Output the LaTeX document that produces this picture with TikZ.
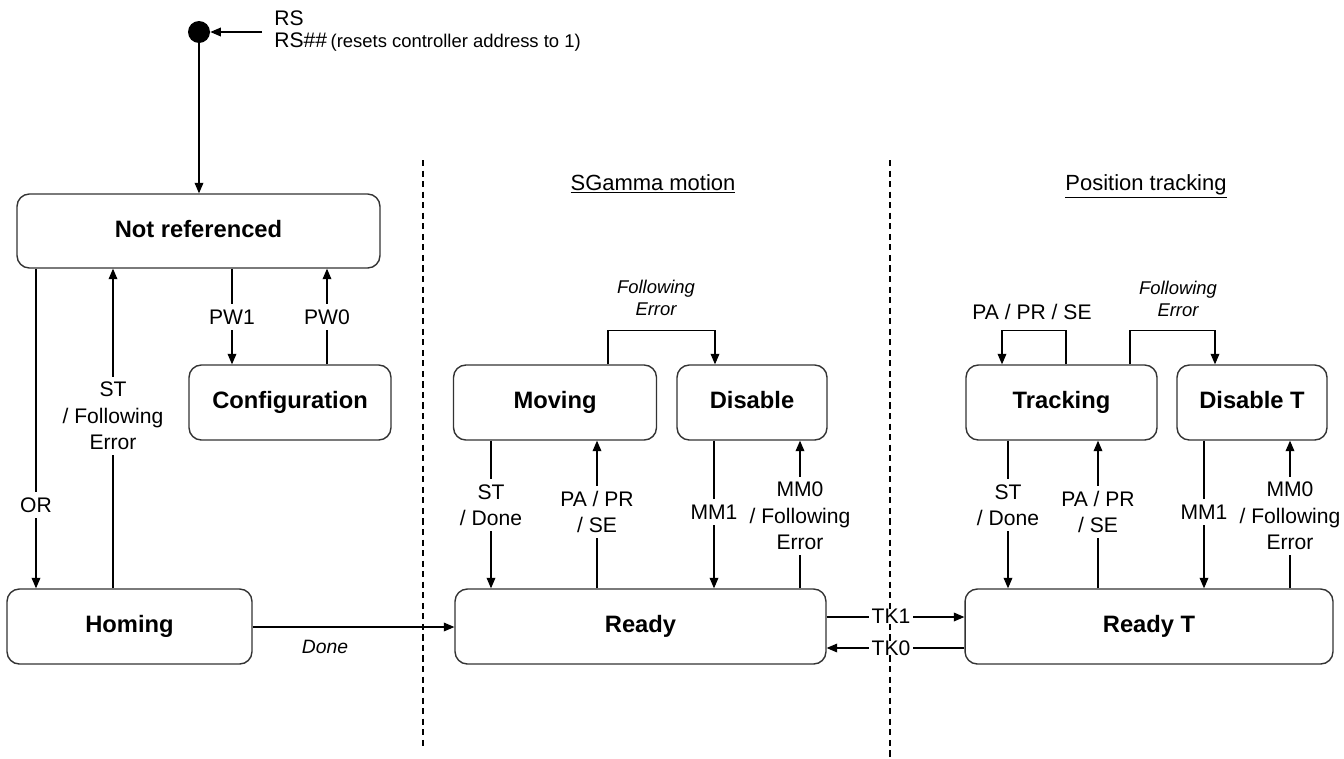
\documentclass[tikz,border=0pt]{standalone}
\usepackage{fontspec}
\setmainfont{Liberation Sans}
\usetikzlibrary{arrows.meta}
\begin{document}
\begin{tikzpicture}[x=0.02cm,y=-0.02cm,
  state/.style={draw=black!80, line width=0.8pt, rounded corners=7pt, inner sep=0pt,
    minimum height=1.5cm, text height=9.5pt, text depth=2.5pt,
    font=\fontsize{13.5}{16}\selectfont\bfseries},
  arr/.style={line width=0.6pt, -{Triangle[length=6pt,width=5pt]}},
  sepline/.style={line width=0.6pt, dash pattern=on 3.5pt off 2.5pt},
  lbl/.style={fill=white, inner xsep=2pt, inner ysep=3pt, align=center,
    font=\fontsize{12}{15}\selectfont},
  lblit/.style={inner sep=1pt, align=center, font=\fontsize{10.5}{12.5}\selectfont\itshape},
  hdr/.style={inner sep=0pt, anchor=base, font=\fontsize{12.5}{15}\selectfont},
  tklbl/.style={fill=white, inner xsep=1.5pt, inner ysep=0pt, font=\fontsize{12}{15}\selectfont}]
\useasboundingbox (0,0) rectangle (1344,758);

% separators and headers
\draw[sepline] (423,160) -- (423,750);
\draw[sepline] (890,160) -- (890,758);
\node[hdr] (hsg) at (653,190) {\underline{SGamma motion}};
\node[hdr] (hpt) at (1146,190) {\underline{Position tracking}};

% states
\node[state, minimum width=7.26cm, minimum height=1.48cm] (nr) at (198.5,231) {Not referenced};
\node[state, minimum width=4.04cm] (cfg) at (290,402.5) {Configuration};
\node[state, minimum width=4.9cm] (hom) at (129.5,626.5) {Homing};
\node[state, minimum width=7.42cm] (rdy) at (640.5,626.5) {Ready};
\node[state, minimum width=4.06cm] (mov) at (555,402.5) {Moving};
\node[state, minimum width=3.0cm] (dis) at (752,402.5) {Disable};
\node[state, minimum width=3.82cm] (trk) at (1061.5,402.5) {Tracking};
\node[state, minimum width=3.0cm] (dist) at (1252,402.5) {Disable T};
\node[state, minimum width=7.36cm] (rdyt) at (1149,626.5) {Ready T};

% initial state
\node[circle, fill=black, inner sep=0pt, minimum size=0.44cm] (init) at (199,32) {};
\coordinate (rsin) at (262,32);
\draw[arr] (rsin) -- (init);
\node[anchor=west, inner sep=0pt, font=\fontsize{12}{15}\selectfont] (rs1) at (274,18) {RS};
\node[anchor=west, inner sep=0pt, font=\fontsize{12}{15}\selectfont] (rs2) at (274,42)
  {RS\#\#\,{\fontsize{10.5}{12}\selectfont (resets controller address to 1)}};
\draw[arr] (init) -- (init |- nr.north);

% left part
\draw[arr] (nr.south -| 36,0) -- (hom.north -| 36,0);
\draw[arr] (hom.north -| 113,0) -- (nr.south -| 113,0);
\draw[arr] (nr.south -| 232,0) -- (cfg.north -| 232,0);
\draw[arr] (cfg.north -| 327,0) -- (nr.south -| 327,0);
\node[lbl] (lor) at (36,505) {OR};
\node[lbl] (lst) at (113,416) {ST\\/ Following\\Error};
\node[lbl] (lpw1) at (232,317) {PW1};
\node[lbl] (lpw0) at (327,317) {PW0};

\draw[arr] (hom.east |- 0,627) -- (rdy.west |- 0,627);
\node[lblit, font=\fontsize{11}{13}\selectfont\itshape] (ldone) at (325,647) {Done};

% SGamma motion
\draw[arr] (mov.south -| 491,0) -- (rdy.north -| 491,0);
\draw[arr] (rdy.north -| 597,0) -- (mov.south -| 597,0);
\draw[arr] (dis.south -| 714,0) -- (rdy.north -| 714,0);
\draw[arr] (rdy.north -| 800,0) -- (dis.south -| 800,0);
\draw[arr] (mov.north -| 608,0) -- ++(0,-34) -| (dis.north -| 715,0);
\node[lbl] (lmst) at (491,505) {ST\\/ Done};
\node[lbl] (lmpa) at (597,512) {PA / PR\\/ SE};
\node[lbl] (lmm1) at (714,512) {MM1};
\node[lbl] (lmm0) at (800,516) {MM0\\/ Following\\Error};
\node[lblit] (lmfe) at (656,298) {Following\\Error};

% TK transitions
\draw[arr] (rdy.east |- 0,617) -- (rdyt.west |- 0,617);
\draw[arr] (rdyt.west |- 0,648) -- (rdy.east |- 0,648);
\node[tklbl] (ltk1) at (891,616) {TK1};
\node[tklbl] (ltk0) at (891,648) {TK0};

% Position tracking
\draw[arr] (trk.south -| 1008,0) -- (rdyt.north -| 1008,0);
\draw[arr] (rdyt.north -| 1098,0) -- (trk.south -| 1098,0);
\draw[arr] (dist.south -| 1204,0) -- (rdyt.north -| 1204,0);
\draw[arr] (rdyt.north -| 1290,0) -- (dist.south -| 1290,0);
\draw[arr] (trk.north -| 1066,0) -- ++(0,-34) -| (trk.north -| 1002,0);
\draw[arr] (trk.north -| 1130,0) -- ++(0,-34) -| (dist.north -| 1215,0);
\node[lbl] (ltst) at (1008,505) {ST\\/ Done};
\node[lbl] (ltpa) at (1098,512) {PA / PR\\/ SE};
\node[lbl] (ltm1) at (1204,512) {MM1};
\node[lbl] (ltm0) at (1290,516) {MM0\\/ Following\\Error};
\node[lbl] (ltloop) at (1032,312) {PA / PR / SE};
\node[lblit] (ltfe) at (1178,299) {Following\\Error};
\end{tikzpicture}
\end{document}
